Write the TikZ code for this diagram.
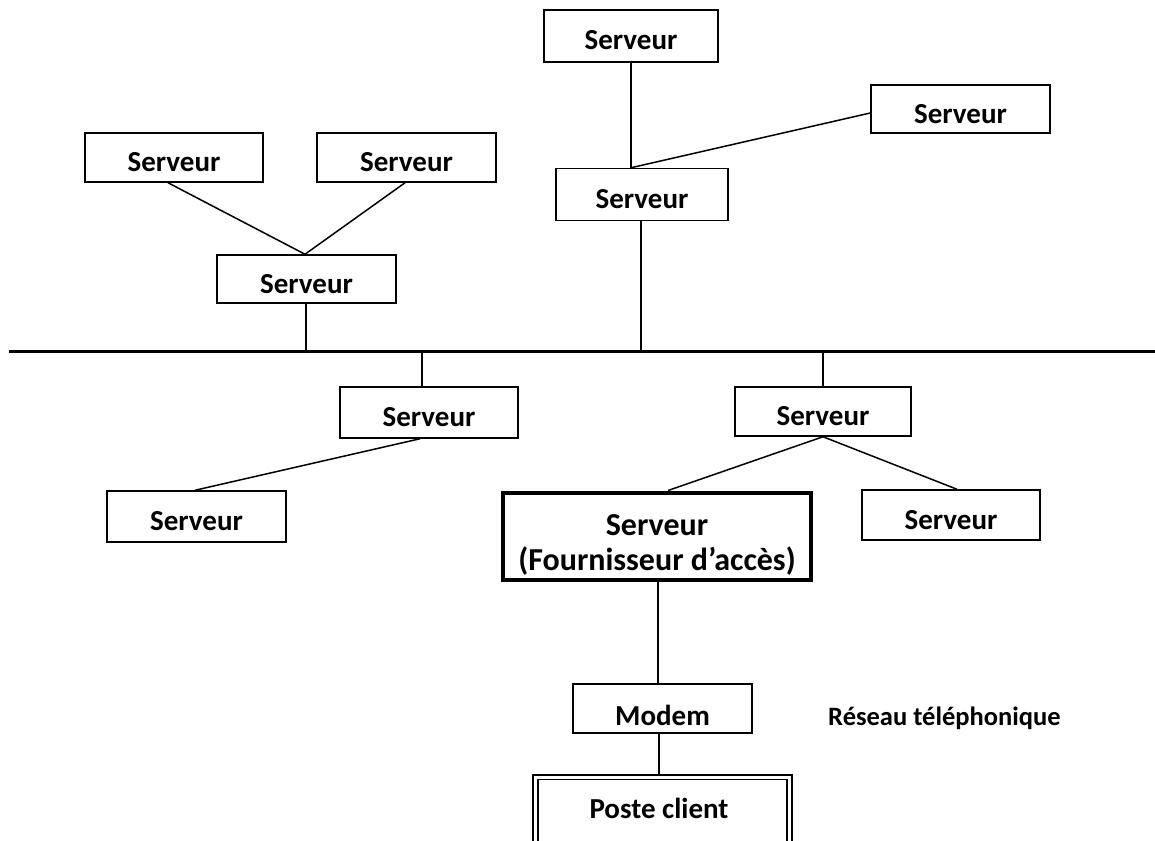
\documentclass[tikz,border=0pt]{standalone}
\usepackage{fontspec}
\setmainfont{Carlito}
\begin{document}
\begin{tikzpicture}[x=1pt,y=-1pt,
  box/.style={draw, line width=1.5pt, minimum width=176pt, minimum height=50pt, inner sep=0pt,
    font=\bfseries\fontsize{29}{34}\selectfont, text height=28pt, text depth=0pt},
  fa/.style={draw, line width=4pt, minimum width=308pt, minimum height=87pt, inner sep=0pt,
    font=\bfseries\fontsize{32}{35}\selectfont},
  poste/.style={draw, double, double distance=3pt, line width=1.6pt, inner sep=0pt},
  link/.style={line width=1.5pt},
  bus/.style={line width=3pt}]
\useasboundingbox (0,0) rectangle (1155,840);
% top right group
\node[box, minimum width=174pt, minimum height=52pt] (T1) at (631,36) {Serveur};
\node[box, minimum width=179pt, minimum height=48pt] (T2) at (960.5,109) {Serveur};
\node[box, minimum width=172pt, minimum height=52pt] (T3) at (642,194.5) {Serveur};
% top left group
\node[box, minimum width=178pt, minimum height=49pt] (L1) at (174,157.5) {Serveur};
\node[box, minimum width=179pt, minimum height=49pt] (L2) at (406.5,157.5) {Serveur};
\node[box, minimum width=179pt, minimum height=48pt] (L3) at (306.5,279) {Serveur};
% lower groups
\node[box, minimum width=178pt, minimum height=51pt] (M1) at (429,412.5) {Serveur};
\node[box, minimum width=176pt, minimum height=49pt] (M2) at (823,411.5) {Serveur};
\node[box, minimum width=179pt, minimum height=51pt] (B1) at (196.5,516.5) {Serveur};
\node[box, minimum width=178pt, minimum height=50pt] (B3) at (951,515) {Serveur};
\node[fa] (FA) at (657,536) {\raisebox{-16pt}[0pt][0pt]{\begin{tabular}{@{}c@{}}Serveur\\(Fournisseur d’accès)\end{tabular}}};
\node[box, minimum width=179pt, minimum height=49pt, text height=33pt] (MO) at (662.5,708.5) {Modem};
\node[poste, minimum width=254pt, minimum height=76pt] (PC) at (662.5,815) {};
\node[font=\bfseries\fontsize{29}{34}\selectfont, inner sep=0pt, anchor=base] (PCt) at (659,818) {Poste client};
\node[font=\bfseries\fontsize{26.5}{30}\selectfont, anchor=base west, inner sep=0pt] (RT) at (828,725) {Réseau téléphonique};
% bus
\coordinate (busL) at (9,351);
\coordinate (busR) at (1155,351);
\draw[bus] (busL) -- (busR);
% connectors top
\draw[link] (T1.south) -- (T1.south |- T3.north);
\coordinate (t3a) at (T1.south |- T3.north);
\draw[link] (t3a) -- ([yshift=-4pt]T2.west);
\draw[link] (T3.south -| 641,0) -- (busL -| 641,0);
\coordinate (l3a) at (L3.north -| 305,0);
\draw[link] (L1.south -| 168,0) -- (l3a);
\draw[link] (L2.south -| 405,0) -- (l3a);
\draw[link] (L3.south -| 306,0) -- (busL -| 306,0);
% connectors bottom
\draw[link] (busL -| 422,0) -- (M1.north -| 422,0);
\draw[link] (busL -| 823,0) -- (M2.north -| 823,0);
\draw[link] (M1.south -| 420,0) -- (B1.north -| 195,0);
\draw[link] (M2.south) -- (FA.north -| 668,0);
\draw[link] (M2.south) -- (B3.north -| 957,0);
\draw[link] (FA.south -| 658,0) -- (MO.north -| 658,0);
\draw[link] (MO.south -| 659,0) -- (PC.north -| 659,0);
\end{tikzpicture}
\end{document}
